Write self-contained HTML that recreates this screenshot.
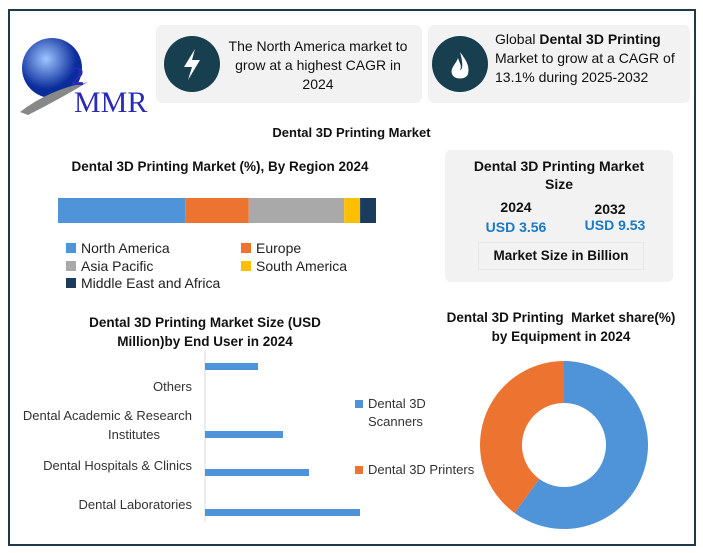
<!DOCTYPE html>
<html><head><meta charset="utf-8">
<style>
body{margin:0;width:703px;height:553px;background:#fff;font-family:"Liberation Sans",sans-serif;overflow:hidden;position:relative}
.abs{position:absolute}
.frame{left:8px;top:9px;width:684px;height:533px;border:2px solid #1d3a4a}
.card{background:#f2f2f2;border-radius:6px}
.circ{border-radius:50%;background:#173f4f}
.t{color:#111;font-size:14px}
.b{font-weight:bold}
</style></head><body>
<div class="abs frame"></div>

<svg class="abs" style="left:18px;top:30px" width="130" height="90">
<defs><radialGradient id="g" cx="40%" cy="35%"><stop offset="0" stop-color="#9fc6ff"/><stop offset="1" stop-color="#0a2d9c"/></radialGradient></defs>
<circle cx="34" cy="38" r="30" fill="url(#g)"/>
<path d="M2 82 Q30 60 70 52 Q40 70 10 85Z" fill="#888"/>
<text x="53" y="55" font-family="Liberation Serif" font-size="26" fill="#2a2ab8" font-weight="bold">2</text>
<text x="56" y="82" font-family="Liberation Serif" font-size="30" fill="#2a2ab8">MMR</text>
</svg>

<div class="abs card" style="left:156px;top:25px;width:266px;height:78px"></div>
<div class="abs circ" style="left:164px;top:36px;width:56px;height:56px">
<svg width="56" height="56"><path d="M31 13 L20 31 H28 L24 44 L36 24 H28 Z" fill="#fff"/></svg></div>
<div class="abs t" style="left:220px;top:37px;width:196px;text-align:center;line-height:19px">The North America market to grow at a highest CAGR in 2024</div>

<div class="abs card" style="left:428px;top:25px;width:262px;height:78px"></div>
<div class="abs circ" style="left:432px;top:36px;width:56px;height:56px">
<svg width="56" height="56"><path d="M28 16 C34 24 38 30 36 38 C34 44 22 44 20 38 C18 32 24 28 26 22 C28 28 30 30 28 34 C30 34 32 30 28 16Z" fill="#fff"/></svg></div>
<div class="abs t" style="left:495px;top:30px;width:195px;line-height:19px">Global <b>Dental 3D Printing</b> Market to grow at a CAGR of 13.1% during 2025-2032</div>

<div class="abs t b" style="left:0;width:703px;top:125px;text-align:center;font-size:13px">Dental 3D Printing Market</div>

<div class="abs t b" style="left:55px;width:330px;top:159px;text-align:center;font-size:13.5px">Dental 3D Printing Market (%), By Region 2024</div>
<svg class="abs" style="left:0;top:0" width="703" height="553" id="chart">
</svg>
<div class="abs" style="left:66px;top:240px;font-size:14px;color:#222;line-height:17.5px">
<div><span style="display:inline-block;width:10px;height:10px;background:#4f93d8;margin-right:5px"></span>North America</div>
<div><span style="display:inline-block;width:10px;height:10px;background:#a9a9a9;margin-right:5px"></span>Asia Pacific</div>
<div><span style="display:inline-block;width:10px;height:10px;background:#1c3c5e;margin-right:5px"></span>Middle East and Africa</div>
</div>
<div class="abs" style="left:241px;top:240px;font-size:14px;color:#222;line-height:17.5px">
<div><span style="display:inline-block;width:10px;height:10px;background:#ed7331;margin-right:5px"></span>Europe</div>
<div><span style="display:inline-block;width:10px;height:10px;background:#fdc000;margin-right:5px"></span>South America</div>
</div>

<div class="abs card" style="left:445px;top:150px;width:228px;height:132px"></div>
<div class="abs t b" style="left:459px;width:200px;top:157px;text-align:center;line-height:18px">Dental 3D Printing Market<br>Size</div>
<div class="abs t b" style="left:481px;top:199px;width:70px;text-align:center">2024</div>
<div class="abs t b" style="left:575px;top:201px;width:70px;text-align:center">2032</div>
<div class="abs b" style="left:476px;top:219px;width:80px;text-align:center;font-size:14px;color:#1a7ac6">USD 3.56</div>
<div class="abs b" style="left:575px;top:217px;width:80px;text-align:center;font-size:14px;color:#1a7ac6">USD 9.53</div>
<div class="abs t b" style="left:478px;top:242px;width:164px;height:26px;border:1px solid #e6e6e6;text-align:center;line-height:26px;font-size:13.5px">Market Size in Billion</div>

<div class="abs t b" style="left:60px;width:290px;top:313px;text-align:center;line-height:19px;font-size:13.5px">Dental 3D Printing Market Size (USD Million)by End User in 2024</div>
<div class="abs t b" style="left:400px;width:322px;top:308px;text-align:center;line-height:19px;font-size:13.5px">Dental 3D Printing&nbsp; Market share(%)<br>by Equipment in 2024</div>

<div class="abs" style="left:355px;top:395px;font-size:13px;color:#333;line-height:18px"><span style="display:inline-block;width:8px;height:8px;background:#4f93d8;margin-right:5px"></span>Dental 3D<br><span style="margin-left:13px">Scanners</span></div>
<div class="abs" style="left:355px;top:462px;font-size:13px;color:#333"><span style="display:inline-block;width:8px;height:8px;background:#ed7331;margin-right:5px"></span>Dental 3D Printers</div>

<script>
const regions=["North America","Europe","Asia Pacific","South America","Middle East and Africa"];
const regionShares=[40,20,30,5,5];
const regionColors=["#4f93d8","#ed7331","#a9a9a9","#fdc000","#1c3c5e"];
const endUsers=["Others","Dental Academic & Research Institutes","Dental Hospitals & Clinics","Dental Laboratories"];
const endUserValues=[53,78,104,155];
const equipment=["Dental 3D Scanners","Dental 3D Printers"];
const equipmentShares=[60,40];
const equipColors=["#4f93d8","#ed7331"];
const NS="http://www.w3.org/2000/svg";
const svg=document.getElementById('chart');
function mk(t,a){const e=document.createElementNS(NS,t);for(const k in a)e.setAttribute(k,a[k]);svg.appendChild(e);return e;}
const sx=v=>58+v*318/100;let acc=0;
regionShares.forEach((v,i)=>{const r=mk('rect',{x:sx(acc),y:198,width:sx(acc+v)-sx(acc),height:25,fill:regionColors[i]});

acc+=v;});
const bx=v=>205+v;const rows=[366,434,472,512];
mk('line',{x1:205,y1:350,x2:205,y2:522,stroke:'#d9d9d9'});
const labels=[["Others"],["Dental Academic & Research","Institutes"],["Dental Hospitals & Clinics"],["Dental Laboratories"]];
const labelY=[[391],[420,439],[470],[509]];
endUserValues.forEach((v,i)=>{const r=mk('rect',{x:205,y:rows[i]-3,width:bx(v)-205,height:7,fill:'#4f93d8'});


labels[i].forEach((s,j)=>{const t=mk('text',{x:j?134:192,y:labelY[i][j],'text-anchor':j?'middle':'end','font-size':13,fill:'#333','font-family':'Liberation Sans'});t.textContent=s;

});});
const cx=564,cy=445,R=84,r0=42;let a0=0;
equipmentShares.forEach((v,i)=>{const a1=a0+v/100*2*Math.PI;
const p=(a,rr)=>[cx+rr*Math.sin(a),cy-rr*Math.cos(a)];
const [x1,y1]=p(a0,R),[x2,y2]=p(a1,R),[x3,y3]=p(a1,r0),[x4,y4]=p(a0,r0);const lg=(a1-a0)>Math.PI?1:0;
const e=mk('path',{d:`M${x1} ${y1}A${R} ${R} 0 ${lg} 1 ${x2} ${y2}L${x3} ${y3}A${r0} ${r0} 0 ${lg} 0 ${x4} ${y4}Z`,fill:equipColors[i]});

a0=a1;});
</script>
</body></html>
